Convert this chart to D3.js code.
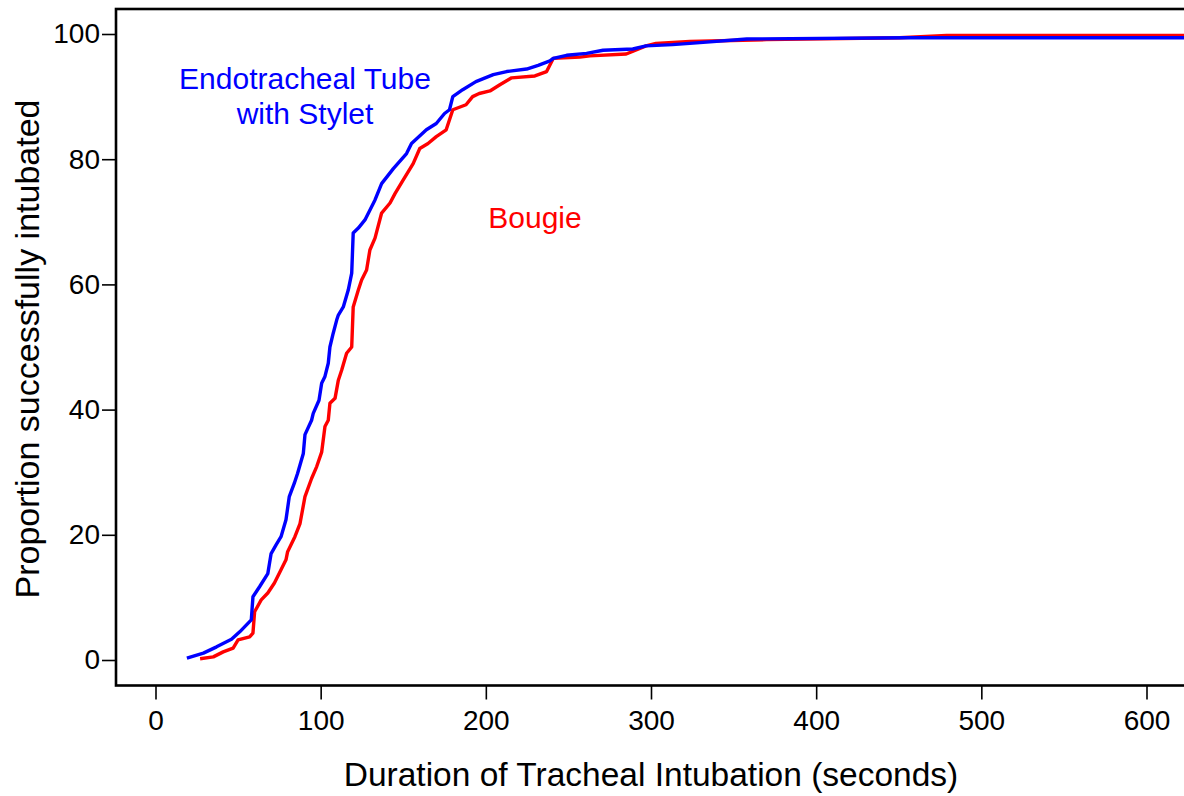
<!DOCTYPE html>
<html>
  <head>
    <meta charset="utf-8" />
    <script src="https://d3js.org/d3.v7.min.js"></script>
    <style>
      body { margin: 0; background: #fff; }
      svg text { font-family: "Liberation Sans", Arial, Helvetica, sans-serif; fill: #000; }
      .axis line { stroke: #000; stroke-width: 1.6px; }
      .axis path { display: none; }
    </style>
  </head>
  <body>
    <svg id="chart" width="1184" height="796"></svg>
    <script>
      // Cumulative proportion intubated (%)
      const stylet_t = [19, 29, 37, 46, 51, 58, 59, 63, 68, 70, 73, 76, 79, 81, 84, 86, 89.5, 90.5,
        94.5, 95.5, 99, 100.6, 102.6, 104.6, 105.6, 107.6, 109.7, 110.7, 113.7, 116.7, 118.8, 119.7,
        122.8, 126.8, 132.9, 136.9, 144, 152, 155, 164, 170, 175, 178, 180, 186, 194, 204.5, 212.6,
        224.7, 231.7, 238.8, 240.8, 248.9, 261, 271, 289, 297, 313, 323.5, 358, 455, 640];
      const stylet_v = [0.3, 1.1, 2.1, 3.3, 4.5, 6.4, 10.1, 11.7, 13.8, 17, 18.4, 19.7, 22.4, 26.1,
        28.2, 29.8, 33.0, 36.0, 38.3, 39.4, 41.5, 44.2, 45.3, 47.4, 50, 52.2, 54.3, 55.1, 56.4, 59.1,
        61.8, 68.2, 69, 70.3, 73.5, 76.1, 78.5, 80.9, 82.5, 84.7, 85.7, 87.3, 87.9, 90, 91.1, 92.4,
        93.5, 94, 94.4, 95, 95.7, 96.1, 96.6, 96.9, 97.4, 97.6, 98.1, 98.3, 98.5, 99.2, 99.4, 99.4];

      const bougie_t = [27, 35, 41, 47, 50, 57, 59, 60, 64, 68, 72, 76, 79, 80, 84.4, 87.5, 90.5,
        94.5, 97.6, 100.6, 102.6, 104.6, 105.6, 108.7, 110.7, 112.7, 115.7, 118.8, 119.7, 122.8,
        124.8, 127.8, 129.8, 132.9, 136.9, 142, 145, 150, 156, 160, 165, 170, 176, 180, 188, 192,
        196, 202.5, 208.5, 215.6, 229.7, 236.8, 240.8, 257, 263, 285, 297, 303, 323.5, 370, 450.6,
        479, 640];
      const bougie_v = [0.2, 0.5, 1.3, 1.9, 3.2, 3.7, 4.3, 7.7, 9.6, 10.7, 12.3, 14.4, 16, 17.3,
        19.7, 21.8, 26.1, 29, 30.9, 33.2, 37.3, 38.3, 41, 41.8, 44.7, 46.3, 49, 50, 56.4, 59.1, 60.7,
        62.3, 65.5, 67.4, 71.4, 73, 74.5, 76.7, 79.3, 81.7, 82.5, 83.6, 84.7, 87.9, 88.7, 90,
        90.5, 90.9, 91.9, 93, 93.3, 94, 96.1, 96.3, 96.5, 96.8, 98.1, 98.5, 98.8, 99.1, 99.4,
        99.75, 99.75];

      const xTicks = [0, 100, 200, 300, 400, 500, 600];
      const yTicks = [0, 20, 40, 60, 80, 100];

      const svg = d3.select("#chart");
      const frameLeft = 116, frameTop = 9, frameBottom = 685.5;

      const x = d3.scaleLinear().domain([0, 600]).range([155.5, 1146.5]);
      const y = d3.scaleLinear().domain([0, 100]).range([660, 34]);

      // plot frame (right side runs off the picture)
      svg.append("rect")
        .attr("x", frameLeft).attr("y", frameTop)
        .attr("width", 1200 - frameLeft).attr("height", frameBottom - frameTop)
        .attr("fill", "none").attr("stroke", "#000").attr("stroke-width", 2.6);

      svg.append("g")
        .attr("class", "axis")
        .attr("transform", `translate(${frameLeft},0)`)
        .call(d3.axisLeft(y).tickValues(yTicks).tickSize(14).tickPadding(2))
        .selectAll("text")
        .style("font-size", "28px");

      svg.append("g")
        .attr("class", "axis")
        .attr("transform", `translate(0,${frameBottom})`)
        .call(d3.axisBottom(x).tickValues(xTicks).tickSize(14).tickPadding(11))
        .selectAll("text")
        .style("font-size", "28px");

      const line = d3.line().x((d) => x(d[0])).y((d) => y(d[1]));

      svg.append("path")
        .datum(d3.zip(bougie_t, bougie_v))
        .attr("d", line)
        .attr("fill", "none").attr("stroke", "#ff0000")
        .attr("stroke-width", 3.4).attr("stroke-linejoin", "round");

      svg.append("path")
        .datum(d3.zip(stylet_t, stylet_v))
        .attr("d", line)
        .attr("fill", "none").attr("stroke", "#0000ff")
        .attr("stroke-width", 3.4).attr("stroke-linejoin", "round");

      // series labels
      svg.append("text").attr("x", 305).attr("y", 89)
        .attr("text-anchor", "middle").style("font-size", "30px").style("fill", "#0000ff")
        .text("Endotracheal Tube");
      svg.append("text").attr("x", 305).attr("y", 124)
        .attr("text-anchor", "middle").style("font-size", "30px").style("fill", "#0000ff")
        .text("with Stylet");
      svg.append("text").attr("x", 535).attr("y", 228)
        .attr("text-anchor", "middle").style("font-size", "30px").style("fill", "#ff0000")
        .text("Bougie");

      // axis titles
      svg.append("text").attr("x", 651).attr("y", 786)
        .attr("text-anchor", "middle").style("font-size", "33.5px")
        .text("Duration of Tracheal Intubation (seconds)");
      svg.append("text")
        .attr("transform", "translate(39,349) rotate(-90)")
        .attr("text-anchor", "middle").style("font-size", "34px")
        .text("Proportion successfully intubated");
    </script>
  </body>
</html>
